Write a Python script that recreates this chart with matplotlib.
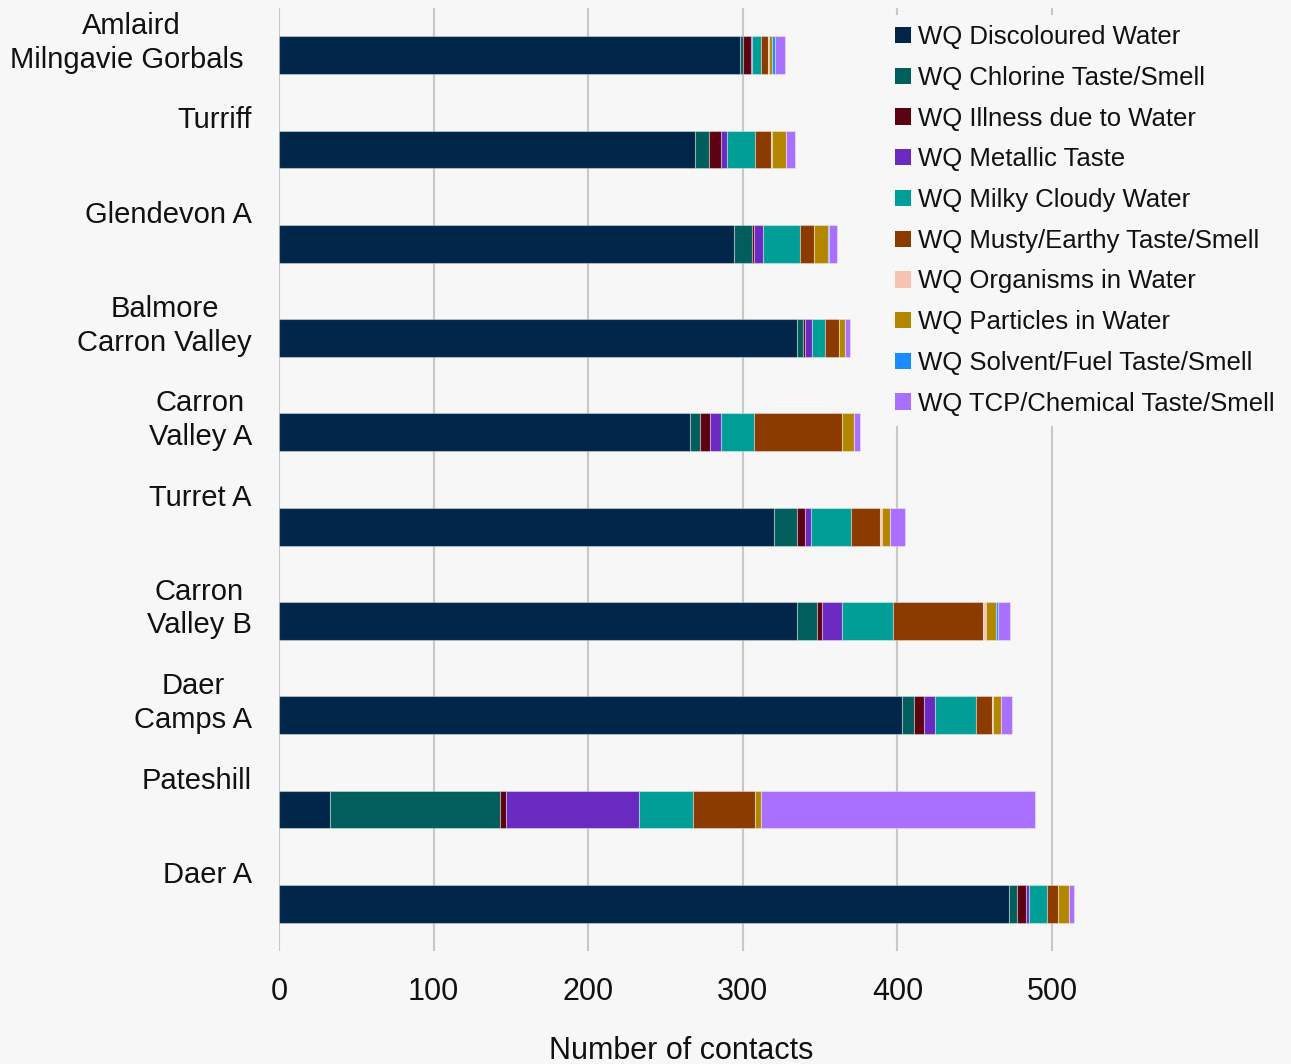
import matplotlib
matplotlib.use("Agg")
import matplotlib.pyplot as plt
import numpy as np
from matplotlib.patches import Patch

plt.rcParams["font.family"] = ["Liberation Sans", "DejaVu Sans"]

# Data
sites = [
    "Amlaird\nMilngavie Gorbals ",
    "Turriff",
    "Glendevon A",
    "Balmore\nCarron Valley",
    "Carron\nValley A",
    "Turret A",
    "Carron\nValley B",
    "Daer\nCamps A",
    "Pateshill",
    "Daer A",
]
categories = [
    "WQ Discoloured Water",
    "WQ Chlorine Taste/Smell",
    "WQ Illness due to Water",
    "WQ Metallic Taste",
    "WQ Milky Cloudy Water",
    "WQ Musty/Earthy Taste/Smell",
    "WQ Organisms in Water",
    "WQ Particles in Water",
    "WQ Solvent/Fuel Taste/Smell",
    "WQ TCP/Chemical Taste/Smell",
]
discoloured = [298, 269, 294, 335, 266, 320, 335, 403, 33, 472]
chlorine = [2, 9, 12, 4, 6, 15, 13, 8, 110, 5]
illness = [5, 8, 1, 1, 7, 5, 3, 6, 4, 6]
metallic = [1, 4, 6, 5, 7, 4, 13, 7, 86, 2]
milky = [6, 18, 24, 8, 21, 26, 33, 27, 35, 12]
musty = [4, 10, 9, 9, 57, 19, 58, 10, 40, 7]
organisms = [1, 1, 0, 0, 0, 1, 2, 1, 0, 0]
particles = [2, 9, 9, 4, 8, 5, 7, 5, 4, 7]
solvent = [2, 0, 1, 0, 0, 0, 1, 0, 0, 0]
tcp = [6, 6, 5, 3, 4, 10, 8, 7, 177, 3]

series = [discoloured, chlorine, illness, metallic, milky,
          musty, organisms, particles, solvent, tcp]
colors = ["#022649", "#015e5c", "#5c0210", "#6a2ac0", "#019e98",
          "#8b3a00", "#f6c3b3", "#b38600", "#1a8cff", "#a970ff"]

bg = "#f7f7f7"
fig = plt.figure(figsize=(12.91, 10.64), dpi=100, facecolor=bg)
ax = fig.add_axes([0.2161, 0.1062, 0.6228, 0.8863], facecolor=bg)

y = np.arange(len(sites))
left = np.zeros(len(sites))
for vals, col in zip(series, colors):
    vals = np.array(vals, dtype=float)
    ax.barh(y, vals, left=left, height=0.4, color=col,
            edgecolor=(1, 1, 1, 0.35), linewidth=0.8, zorder=3)
    left += vals

ax.set_ylim(len(sites) - 0.5, -0.5)
ax.set_xlim(0, 520)
ax.set_xticks(np.arange(0, 501, 100))
ax.set_yticks([])
ax.tick_params(axis="x", length=0, labelsize=22, pad=18.5, colors="#111111")
ax.grid(axis="x", color="#c8c8c8", linewidth=1.5, zorder=0)
for s in ax.spines.values():
    s.set_visible(False)
ax.set_xlabel("Number of contacts", fontsize=22, labelpad=21, color="#111111")

# category labels sit above their bars
for yi, name in zip(y, sites):
    ax.text(-0.0336, yi - 0.456, name, transform=ax.get_yaxis_transform(),
            ha="right", va="top", multialignment="center",
            fontsize=21, color="#111111", linespacing=1.25)

handles = [Patch(facecolor=c, edgecolor="none") for c in colors]
leg = fig.legend(handles, categories, loc="upper left",
                 bbox_to_anchor=(885 / 1291, 1 - 15 / 1064),
                 fontsize=18.5, frameon=True, facecolor=bg, edgecolor="none",
                 framealpha=1, handlelength=0.6, handleheight=0.6,
                 handletextpad=0.3, labelspacing=0.65, borderpad=0.4,
                 borderaxespad=0)
for t in leg.get_texts():
    t.set_color("#111111")

fig.savefig("out.png", dpi=100, facecolor=bg)
